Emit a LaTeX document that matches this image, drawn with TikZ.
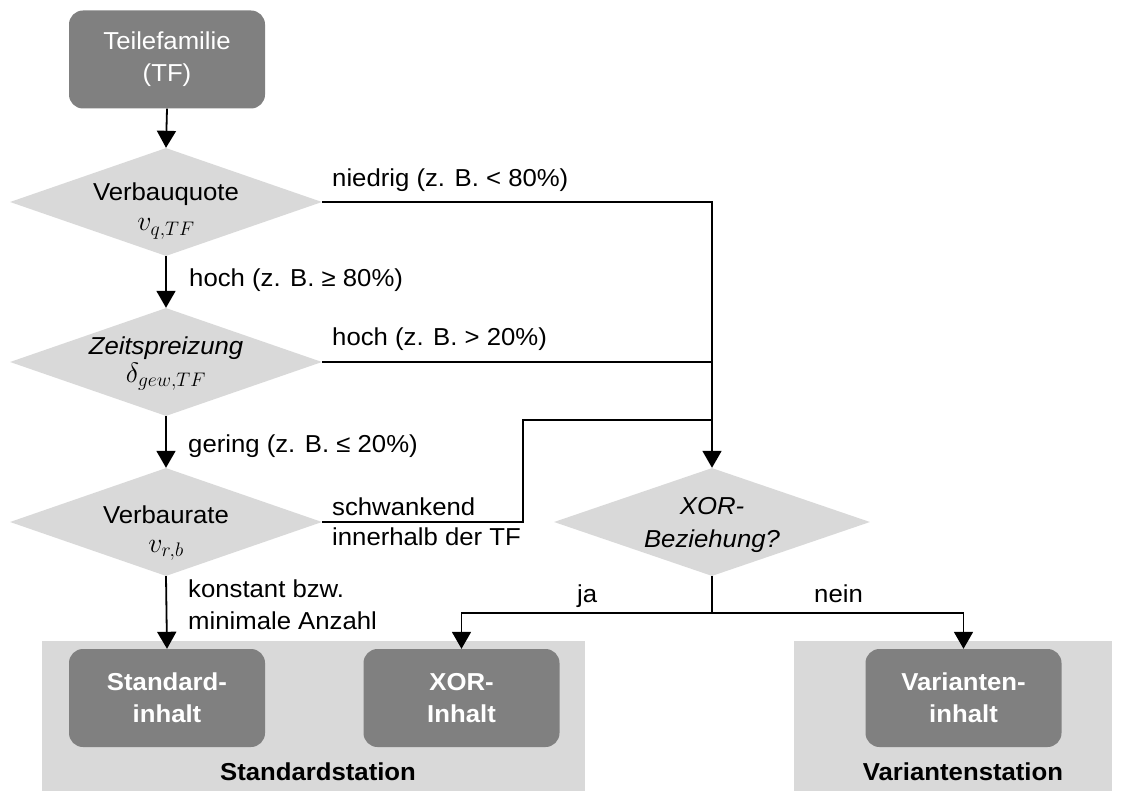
\RequirePackage{fix-cm}
\documentclass[tikz,border=0pt]{standalone}
\usepackage{fontspec}
\setmainfont{Liberation Sans}[FakeStretch=1.05]
\usetikzlibrary{shapes.geometric,arrows.meta}

\definecolor{boxdark}{gray}{0.5}
\definecolor{boxlight}{gray}{0.85}

\tikzset{
  base/.style={font=\fontsize{24.5}{32}\selectfont, inner sep=0pt},
  boldtext/.style={font=\fontsize{24.5}{32}\selectfont\bfseries},
  mathtext/.style={font=\fontsize{28}{32}\selectfont},
  contentbox/.style={base, fill=boxdark, rounded corners=14pt, text=white,
    align=center, minimum width=196pt, minimum height=98pt},
  decision/.style={diamond, fill=boxlight, inner sep=0pt,
    minimum width=312pt, minimum height=108pt},
  stationbox/.style={fill=boxlight, inner sep=0pt},
  txt/.style={base, anchor=base},
  lbl/.style={base, anchor=base west},
  conn/.style={line width=1.8pt},
  arr/.style={conn, -{Triangle[width=19pt,length=17pt]}},
}

\begin{document}
\begin{tikzpicture}[x=1pt,y=-1pt]
  \useasboundingbox (0,0) rectangle (1124,791);

  % stations (background areas)
  \node[stationbox, minimum width=543pt, minimum height=150pt] (ss) at (313.5,716) {};
  \node[stationbox, minimum width=318pt, minimum height=150pt] (vs) at (953,716) {};
  \node[txt, boldtext] (sslbl) at (318,780) {Standardstation};
  \node[txt, boldtext] (vslbl) at (963,780) {Variantenstation};

  % start node
  \node[contentbox] (tf) at (167,59.5) {Teilefamilie\\(TF)};

  % decisions
  \node[decision] (d1) at (166,202) {};
  \node[decision] (d2) at (166,362) {};
  \node[decision] (d3) at (166,522) {};
  \node[decision, minimum width=316pt] (d4) at (712,522) {};

  \node[txt] (d1a) at (166,201) {Verbauquote};
  \node[txt, mathtext] (d1b) at (166,231) {$v_{q,TF}$};
  \node[txt] (d2a) at (166,355) {\itshape Zeitspreizung};
  \node[txt, mathtext] (d2b) at (166,382) {$\delta_{gew,TF}$};
  \node[txt] (d3a) at (166,523) {Verbaurate};
  \node[txt, mathtext] (d3b) at (166,552) {$v_{r,b}$};
  \node[txt] (d4a) at (712,514) {\itshape XOR-};
  \node[txt] (d4b) at (712,547) {\itshape Beziehung?};

  % contents
  \node[contentbox, boldtext] (si) at (167,698) {Standard-\\inhalt};
  \node[contentbox, boldtext] (xi) at (461.5,698) {XOR-\\Inhalt};
  \node[contentbox, boldtext] (vi) at (963.5,698) {Varianten-\\inhalt};

  % routing points
  \coordinate (k1) at (523,420);
  \coordinate (j) at (712,613);

  % main chain
  \draw[arr] (tf.south) -- (d1.north);
  \draw[arr] (d1.south) -- (d2.north);
  \draw[arr] (d2.south) -- (d3.north);
  \draw[arr] (d3.south) -- (si.north);

  % branches to the XOR decision
  \draw[arr] (d1.east) -| (d4.north);
  \draw[conn] (d2.east) -- (d2.east -| d4.north);
  \draw[conn] (d3.east) -| (k1) -- (k1 -| d4.north);

  % XOR decision outputs
  \draw[conn] (d4.south) -- (j);
  \draw[arr] (j) -| (xi.north);
  \draw[arr] (j) -| (vi.north);

  % edge labels
  \node[lbl] (l1) at (332,187) {niedrig (z. B. < 80\%)};
  \node[lbl] (l2) at (189,287) {hoch (z. B. ≥ 80\%)};
  \node[lbl] (l3) at (332,345) {hoch (z. B. > 20\%)};
  \node[lbl] (l4) at (188,452) {gering (z. B. ≤ 20\%)};
  \node[lbl] (l5) at (332,515) {schwankend};
  \node[lbl] (l6) at (332,545) {innerhalb der TF};
  \node[lbl] (l7) at (188,597) {konstant bzw.};
  \node[lbl] (l8) at (188,629) {minimale Anzahl};
  \node[lbl] (l9) at (577,602) {ja};
  \node[lbl] (l10) at (814,602) {nein};
\end{tikzpicture}
\end{document}
